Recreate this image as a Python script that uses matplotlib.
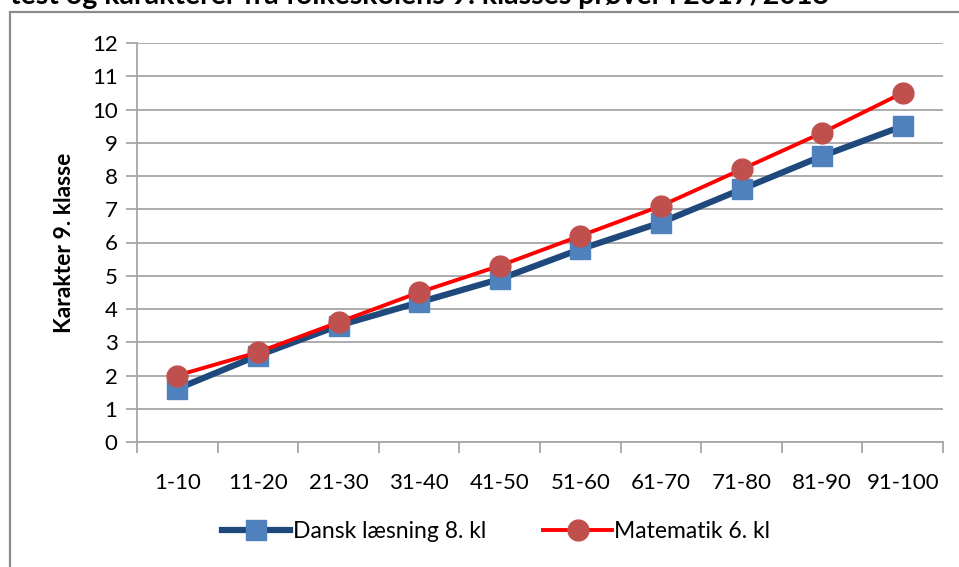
import matplotlib
matplotlib.use("Agg")
import matplotlib.pyplot as plt
from matplotlib.patches import Rectangle
from matplotlib.ticker import FixedLocator, NullFormatter

categories = ["1-10", "11-20", "21-30", "31-40", "41-50", "51-60", "61-70", "71-80", "81-90", "91-100"]
dansk = [1.6, 2.6, 3.5, 4.2, 4.9, 5.8, 6.6, 7.6, 8.6, 9.5]
matematik = [2.0, 2.7, 3.6, 4.5, 5.3, 6.2, 7.1, 8.2, 9.3, 10.5]
yticks = list(range(0, 13))

plt.rcParams['font.family'] = ['Lato', 'DejaVu Sans']

fig = plt.figure(figsize=(9.59, 5.67), dpi=100)
ax = fig.add_axes([137/959, 1-442/567, (943-137)/959, (442-43)/567])

# outer chart frame
fig.patches.append(Rectangle((10/959, -0.1), 1.2, 1 - 12/567 + 0.1, transform=fig.transFigure,
                             fill=False, edgecolor='#8c8c8c', linewidth=1.6, zorder=0))

fig.text(10/959, 1 - 4/567, "test og karakterer fra folkeskolens 9. klasses prøver i 2017/2018",
         fontsize=20.5, fontweight='bold', va='baseline', ha='left')

x = list(range(len(categories)))
ax.plot(x, dansk, color='#1F497D', linewidth=4.5, marker='s', markersize=14,
        markerfacecolor='#4F81BD', markeredgecolor='#4F81BD', label='Dansk læsning 8. kl', zorder=3)
ax.plot(x, matematik, color='#FF0000', linewidth=2.8, marker='o', markersize=15,
        markerfacecolor='#C0504D', markeredgecolor='#C0504D', label='Matematik 6. kl', zorder=4)

ax.set_xlim(-0.5, len(categories) - 0.5)
ax.set_ylim(0, 12)
ax.set_yticks(yticks)
ax.set_yticklabels([str(v) for v in yticks])
ax.yaxis.grid(True, color='#a6a6a6', linewidth=1.3)
ax.set_axisbelow(True)

ax.xaxis.set_major_locator(FixedLocator([i - 0.5 for i in range(len(categories) + 1)]))
ax.xaxis.set_major_formatter(NullFormatter())
ax.set_xticks(x, minor=True)
ax.set_xticklabels(categories, minor=True)
ax.tick_params(axis='x', which='major', length=8, width=1.3, color='#a6a6a6', direction='out')
ax.tick_params(axis='x', which='minor', length=0, pad=22, labelsize=16)
ax.tick_params(axis='y', length=8, width=1.3, color='#a6a6a6', labelsize=16, pad=6)

for s in ['top', 'right']:
    ax.spines[s].set_visible(False)
for s in ['left', 'bottom']:
    ax.spines[s].set_color('#a6a6a6')
    ax.spines[s].set_linewidth(1.3)

ax.set_ylabel("Karakter 9. klasse", fontsize=16.5, fontweight='bold', labelpad=12)

leg = fig.legend(loc='center', bbox_to_anchor=(496/959, 1 - 532/567), ncol=2, frameon=False,
                 fontsize=16.5, handlelength=3.0, columnspacing=2.5, handletextpad=0.1)

fig.savefig("out.png", dpi=100)
